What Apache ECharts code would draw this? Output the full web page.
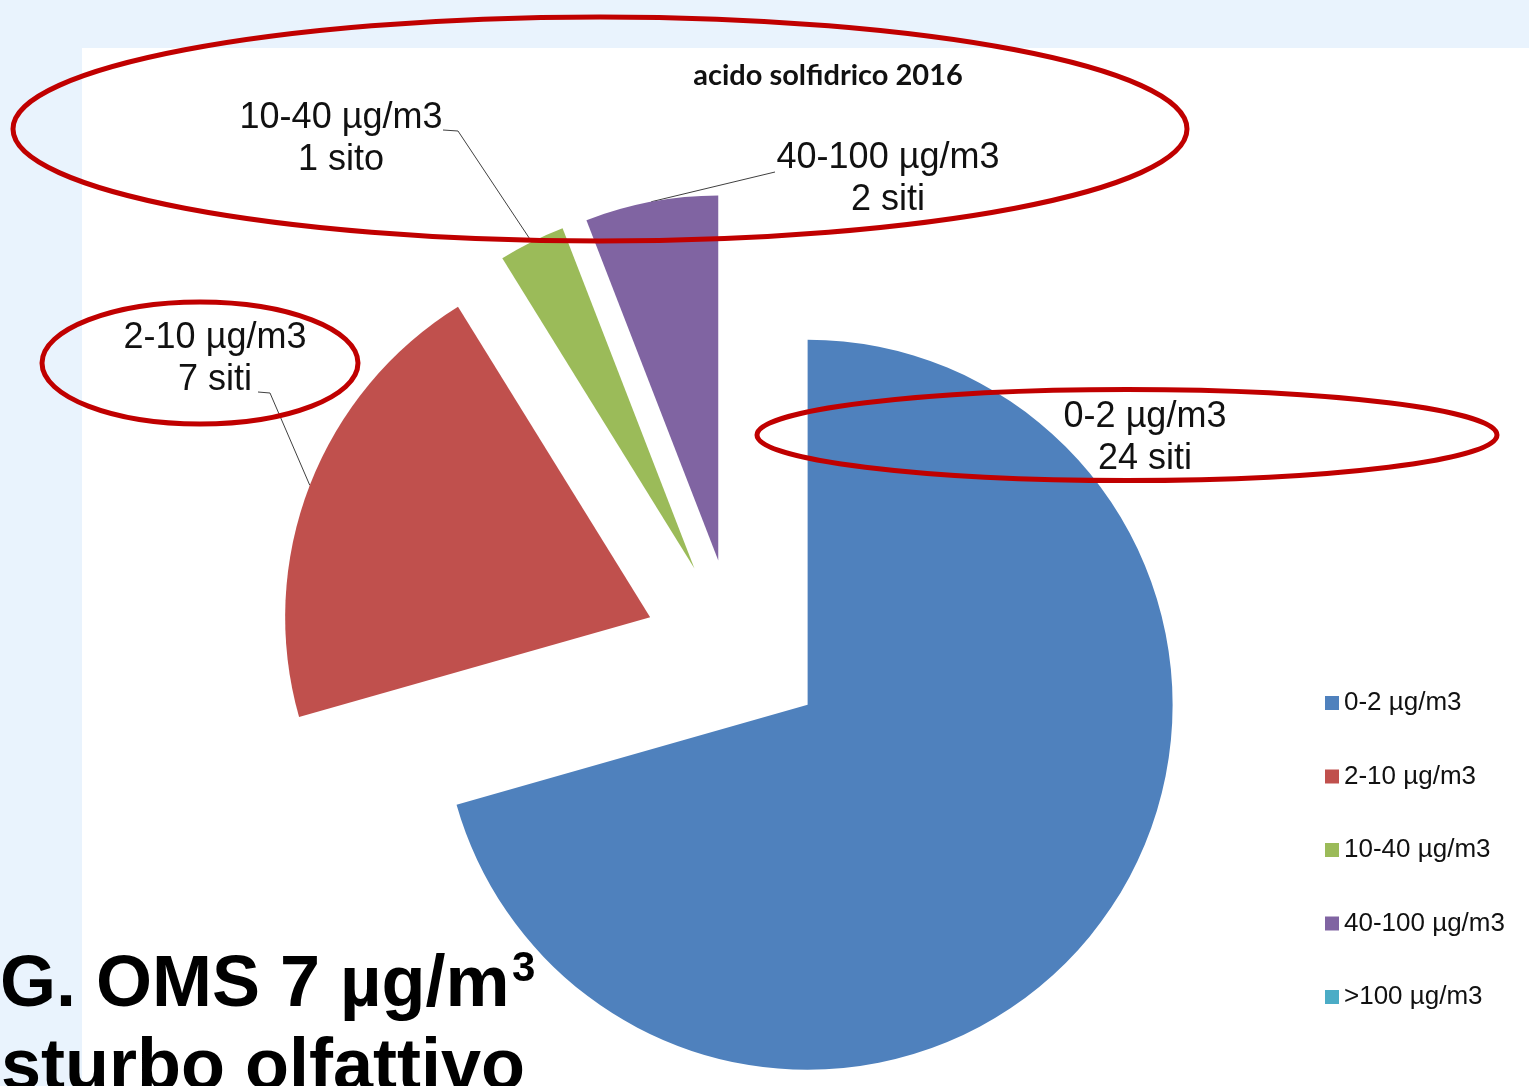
<!DOCTYPE html>
<html>
<head>
<meta charset="utf-8">
<script src="https://cdn.jsdelivr.net/npm/echarts@6/dist/echarts.min.js"></script>
<style>
  html, body { margin: 0; padding: 0; background: #e9f3fd; }
  #chart { width: 1529px; height: 1086px; }
</style>
</head>
<body>
<div id="chart"></div>
<script>
const categories = ['0-2 µg/m3', '2-10 µg/m3', '10-40 µg/m3', '40-100 µg/m3', '>100 µg/m3']
const siteCounts = [24, 7, 1, 2, 0]
const siteUnits = ['siti', 'siti', 'sito', 'siti', 'siti']
const colors = ['#4f81bd', '#c0504d', '#9bbb59', '#8064a2', '#4bacc6']

// label centres, then knee + end of each leader line
const labelSpots = [[1145, 438], [215, 359], [341, 139], [888, 179]]
const leaderEnds = [null, [[270, 393], [258, 392]], [[458, 131], [443, 130]], [[775, 172], [775, 172]]]

const pieCenter = [735, 650]
const pieRadius = 365
const explode = 91

const chart = echarts.init(document.getElementById('chart'))

// red hand-drawn style ellipse made of four bezier pieces
const redRing = (cx, cy, rx, ry) => {
  const k = 0.5523
  const seg = (x1, y1, cpx1, cpy1, cpx2, cpy2, x2, y2) => ({
    type: 'bezierCurve', z: 100, silent: true,
    shape: { x1, y1, cpx1, cpy1, cpx2, cpy2, x2, y2 },
    style: { stroke: '#c00000', lineWidth: 5, fill: null },
  })
  return [
    seg(cx + rx, cy, cx + rx, cy + k * ry, cx + k * rx, cy + ry, cx, cy + ry),
    seg(cx, cy + ry, cx - k * rx, cy + ry, cx - rx, cy + k * ry, cx - rx, cy),
    seg(cx - rx, cy, cx - rx, cy - k * ry, cx - k * rx, cy - ry, cx, cy - ry),
    seg(cx, cy - ry, cx + k * rx, cy - ry, cx + rx, cy - k * ry, cx + rx, cy),
  ]
}

const total = siteCounts.reduce((a, b) => a + b, 0)
let before = 0
// one series per slice so each one can be pulled out on its own
const series = categories.map((name, s) => {
  const mid = ((before + siteCounts[s] / 2) / total) * Math.PI * 2
  before += siteCounts[s]
  return {
    type: 'pie',
    silent: true,
    center: [pieCenter[0] + Math.sin(mid) * explode, pieCenter[1] - Math.cos(mid) * explode],
    radius: pieRadius,
    startAngle: 90,
    avoidLabelOverlap: false,
    emphasis: { disabled: true },
    data: categories.map((n, i) => ({
      name: n,
      value: siteCounts[i],
      itemStyle: { color: i === s ? colors[i] : 'rgba(0,0,0,0)' },
      label: { show: i === s && siteCounts[i] > 0 },
      labelLine: { show: i === s && siteCounts[i] > 0 && i > 0 },
    })),
    label: {
      formatter: (p) => `${p.name}\n${p.value} ${siteUnits[p.dataIndex]}`,
      fontFamily: 'Liberation Sans, Arial',
      fontSize: 36,
      lineHeight: 42,
      color: '#111',
      align: 'center',
    },
    labelLine: { lineStyle: { color: '#404040', width: 1 } },
    labelLayout: (params) => {
      const i = params.dataIndex
      if (i !== s || !labelSpots[i]) return {}
      const out = { x: labelSpots[i][0], y: labelSpots[i][1], align: 'center', verticalAlign: 'middle' }
      if (leaderEnds[i] && params.labelLinePoints) {
        out.labelLinePoints = [params.labelLinePoints[0], leaderEnds[i][0], leaderEnds[i][1]]
      }
      return out
    },
  }
})

chart.setOption({
  backgroundColor: '#e9f3fd',
  animation: false,
  title: {
    text: 'acido solfidrico 2016',
    left: 823,
    top: 56,
    textAlign: 'center',
    textStyle: { fontFamily: 'Lato', fontWeight: 'bold', fontSize: 29, color: '#111' },
  },
  legend: {
    orient: 'vertical',
    left: 1325,
    top: 690,
    padding: 0,
    itemWidth: 14,
    itemHeight: 14,
    itemGap: 47.5,
    icon: 'rect',
    selectedMode: false,
    data: categories.map((name, i) => ({ name, itemStyle: { color: colors[i] } })),
    textStyle: { fontFamily: 'Liberation Sans, Arial', fontSize: 26, lineHeight: 26, color: '#111' },
  },
  graphic: [
    { type: 'rect', z: -10, shape: { x: 82, y: 48, width: 1447, height: 1038 }, style: { fill: '#fff' }, silent: true },
    ...redRing(600, 129, 587, 112),
    ...redRing(200, 363, 158, 61),
    ...redRing(1127, 435, 370, 45.5),
    {
      type: 'text', z: 100, silent: true,
      style: { x: 0, y: 950, text: 'G. OMS 7 µg/m', font: 'bold 72px Liberation Sans, Arial', fill: '#000' },
    },
    {
      type: 'text', z: 100, silent: true,
      style: { x: 512, y: 948, text: '3', font: 'bold 42px Liberation Sans, Arial', fill: '#000' },
    },
    {
      type: 'text', z: 100, silent: true,
      style: { x: 1, y: 1033, text: 'sturbo olfattivo', font: 'bold 72px Liberation Sans, Arial', fill: '#000' },
    },
  ],
  series,
})

window.addEventListener('resize', () => chart.resize())
</script>
</body>
</html>
